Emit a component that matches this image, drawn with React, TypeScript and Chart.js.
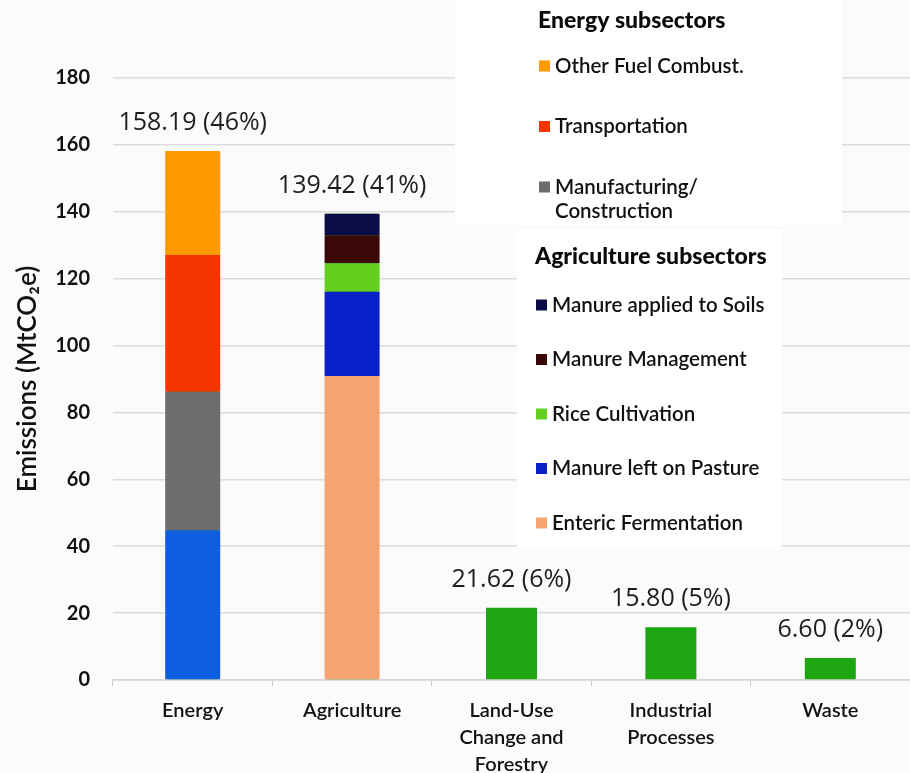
import React, { useEffect, useRef } from 'react';
import { Chart, registerables } from 'chart.js';

Chart.register(...registerables);

// Sectors along the x axis (multi-line labels as arrays)
const categories: (string | string[])[] = [
  'Energy',
  'Agriculture',
  ['Land-Use', 'Change and', 'Forestry'],
  ['Industrial', 'Processes'],
  'Waste',
];

// Sector totals, MtCO2e
const sectorTotals = [158.19, 139.42, 21.62, 15.8, 6.6];

// Energy subsectors (bottom to top)
const energyIndustries = [44.8, null, null, null, null];
const manufacturing = [41.4, null, null, null, null];
const transportation = [40.9, null, null, null, null];
const otherFuel = [31.09, null, null, null, null];

// Agriculture subsectors (bottom to top)
const enteric = [null, 90.9, null, null, null];
const manurePasture = [null, 25.2, null, null, null];
const riceCultivation = [null, 8.5, null, null, null];
const manureManagement = [null, 8.4, null, null, null];
const manureSoils = [null, 6.42, null, null, null];

// Value axis
const yMin = 0;
const yMax = 180;
const yStep = 20;

// Legend groups (dataset labels, top to bottom)
const energyLegendTitle = 'Energy subsectors';
const energyLegendLabels = ['Other Fuel Combust.', 'Transportation', 'Manufacturing/Construction'];
const agricultureLegendTitle = 'Agriculture subsectors';
const agricultureLegendLabels = [
  'Manure applied to Soils',
  'Manure Management',
  'Rice Cultivation',
  'Manure left on Pasture',
  'Enteric Fermentation',
];

const AXIS_FONT = 'Lato, "Open Sans", sans-serif';
const LABEL_FONT = '"Open Sans", "Liberation Sans", sans-serif';

const sub = (label: string, data: (number | null)[], color: string) => ({
  label,
  data,
  backgroundColor: color,
  stack: 'sub',
  order: 0,
  barPercentage: 0.345,
  categoryPercentage: 1,
});

const backgroundPlugin = {
  id: 'pageBackground',
  beforeDraw(chart: any) {
    const { ctx, width, height } = chart;
    ctx.save();
    ctx.fillStyle = '#fbfbfb';
    ctx.fillRect(0, 0, width, height);
    ctx.restore();
  },
};

const valueLabelPlugin = {
  id: 'sectorValueLabels',
  afterDatasetsDraw(chart: any) {
    const { ctx } = chart;
    const idx = chart.data.datasets.findIndex((d: any) => d.stack === 'total');
    const meta = chart.getDatasetMeta(idx);
    const values = chart.data.datasets[idx].data as number[];
    const sum = values.reduce((a, b) => a + b, 0);
    ctx.save();
    ctx.font = `25px ${LABEL_FONT}`;
    ctx.fillStyle = '#1e1e1e';
    ctx.textAlign = 'center';
    ctx.textBaseline = 'middle';
    meta.data.forEach((bar: any, i: number) => {
      const v = values[i];
      const text = `${v.toFixed(2)} (${Math.round((v / sum) * 100)}%)`;
      ctx.fillText(text, bar.x, bar.y - 28);
    });
    ctx.restore();
  },
};

const groupLegendPlugin = {
  id: 'groupLegend',
  afterDraw(chart: any) {
    const { ctx } = chart;
    const colorOf = (label: string) => {
      const ds = chart.data.datasets.find((d: any) => d.label === label);
      return ds ? ds.backgroundColor : '#000';
    };
    const drawGroup = (
      box: [number, number, number, number],
      title: string,
      titleY: number,
      labels: string[],
      x: number,
      firstY: number,
      step: number,
    ) => {
      ctx.save();
      ctx.fillStyle = '#ffffff';
      ctx.fillRect(box[0], box[1], box[2], box[3]);
      ctx.fillStyle = '#0a0a0a';
      ctx.textBaseline = 'middle';
      ctx.textAlign = 'left';
      ctx.font = `900 23px ${AXIS_FONT}`;
      ctx.fillText(title, x, titleY);
      ctx.font = `600 20.5px ${AXIS_FONT}`;
      labels.forEach((label, i) => {
        const y = firstY + i * step;
        ctx.fillStyle = colorOf(label);
        ctx.fillRect(x + 1, y - 5.5, 11, 11);
        ctx.fillStyle = '#111';
        const lines = label.split(/(?<=\/)/);
        lines.forEach((line, j) => ctx.fillText(line, x + 17, y + j * 24));
      });
      ctx.restore();
    };
    drawGroup([455, 0, 387, 225], energyLegendTitle, 21, energyLegendLabels, 538, 66, 60.5);
    drawGroup([517, 229, 265, 321], agricultureLegendTitle, 257, agricultureLegendLabels, 535, 305, 54.5);
  },
};

export default function App() {
  const canvasRef = useRef<HTMLCanvasElement | null>(null);

  useEffect(() => {
    if (!canvasRef.current) return;
    const chart = new Chart(canvasRef.current, {
      type: 'bar',
      data: {
        labels: categories,
        datasets: [
          sub('Energy Industries', energyIndustries, '#0e5ee0'),
          sub('Manufacturing/Construction', manufacturing, '#6d6d6d'),
          sub('Transportation', transportation, '#f43500'),
          sub('Other Fuel Combust.', otherFuel, '#ff9a00'),
          sub('Enteric Fermentation', enteric, '#f5a470'),
          sub('Manure left on Pasture', manurePasture, '#0a20c8'),
          sub('Rice Cultivation', riceCultivation, '#63cf1e'),
          sub('Manure Management', manureManagement, '#3a0806'),
          sub('Manure applied to Soils', manureSoils, '#0b0b45'),
          {
            label: 'Sector total',
            data: sectorTotals,
            backgroundColor: '#1ea512',
            stack: 'total',
            grouped: false,
            order: 1,
            barPercentage: 0.32,
            categoryPercentage: 1,
          } as any,
        ],
      },
      options: {
        responsive: true,
        maintainAspectRatio: false,
        animation: false,
        layout: { padding: { top: 78, left: 0, right: 0, bottom: 0 } },
        plugins: {
          legend: { display: false },
          tooltip: { enabled: false },
        },
        scales: {
          x: {
            stacked: true,
            offset: true,
            border: { display: true, color: '#d6d6d6', width: 1.5 },
            grid: {
              offset: true,
              drawOnChartArea: false,
              drawTicks: true,
              tickLength: 6,
              color: '#c8c8c8',
            },
            ticks: {
              padding: 11,
              color: '#111',
              font: { family: AXIS_FONT, size: 20, weight: '600', lineHeight: 1.35 },
              maxRotation: 0,
              autoSkip: false,
            },
            afterFit(scale: any) {
              scale.height = 93;
            },
          },
          y: {
            stacked: true,
            min: yMin,
            max: yMax,
            border: { display: false },
            grid: { color: '#dcdcdc', lineWidth: 1.5, drawTicks: false },
            ticks: {
              stepSize: yStep,
              padding: 23,
              color: '#111',
              font: { family: AXIS_FONT, size: 20, weight: 'bold' },
            },
            title: {
              display: true,
              text: 'Emissions (MtCO₂e)',
              color: '#111',
              font: { family: AXIS_FONT, size: 26, weight: '600' },
              padding: { top: 12, bottom: 0 },
            },
            afterFit(scale: any) {
              scale.width = 113;
            },
          },
        },
      },
      plugins: [backgroundPlugin, valueLabelPlugin, groupLegendPlugin],
    });
    return () => chart.destroy();
  }, []);

  return (
    <div style={{ position: 'fixed', left: 0, top: 0, width: 910, height: 773 }}>
      <canvas ref={canvasRef} />
    </div>
  );
}
